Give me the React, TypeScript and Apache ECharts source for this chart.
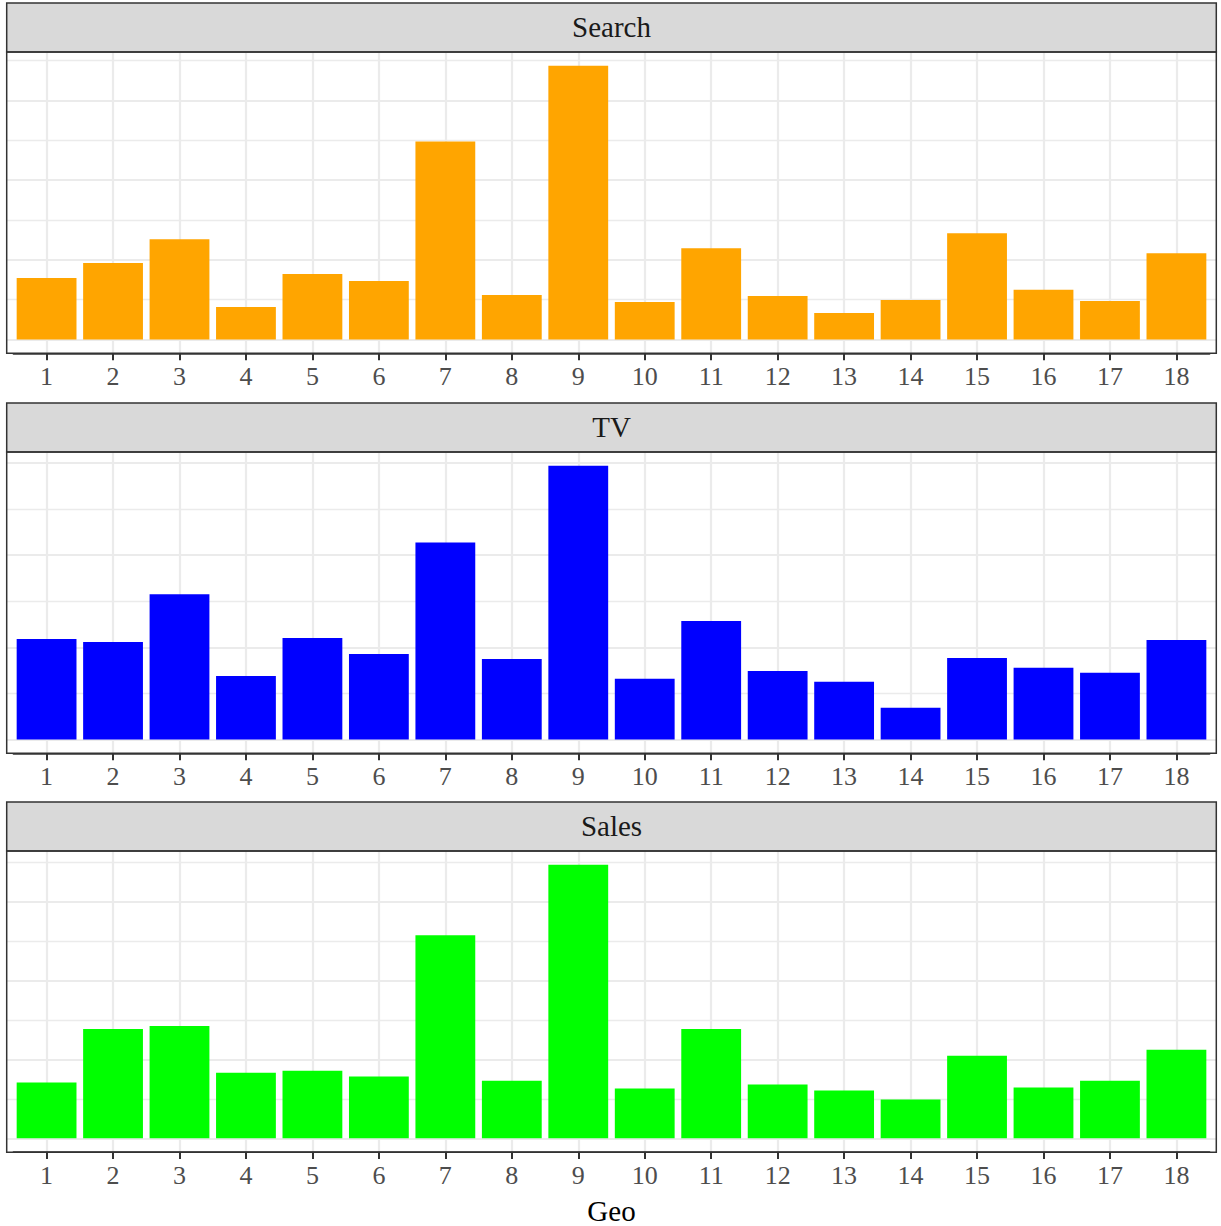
import React, { useEffect, useRef } from "react";
import * as echarts from "echarts";

// ---------------- data ----------------
const geos = ["1", "2", "3", "4", "5", "6", "7", "8", "9", "10", "11", "12", "13", "14", "15", "16", "17", "18"];
const searchValues = [0.771, 0.959, 1.259, 0.409, 0.821, 0.734, 2.484, 0.559, 3.434, 0.471, 1.146, 0.546, 0.334, 0.496, 1.334, 0.625, 0.484, 1.084];
const tvValues = [1.09, 1.057, 1.575, 0.69, 1.1, 0.928, 2.136, 0.874, 2.967, 0.658, 1.284, 0.744, 0.626, 0.345, 0.885, 0.777, 0.723, 1.079];
const salesValues = [0.705, 1.385, 1.423, 0.831, 0.856, 0.781, 2.569, 0.73, 3.463, 0.63, 1.385, 0.68, 0.605, 0.491, 1.045, 0.642, 0.73, 1.121];
const panelNames = ["Search", "TV", "Sales"];
const panelColors = ["#FFA500", "#0000FF", "#00FF00"];
const xTitle = "Geo";

// ---------------- layout ----------------
const FONT = "'Liberation Serif', 'DejaVu Serif', serif";
const PANEL_LEFT = 6.7;
const PANEL_WIDTH = 1209.6;
const STRIP_TOPS = [3, 403, 802];
const STRIP_H = 49;
const PANEL_H = 301.3;
const UNIT = PANEL_WIDTH / 18.2;
const INSET = 0.1 * UNIT;

function buildOption() {
  const all = [searchValues, tvValues, salesValues];
  const grid: any[] = [];
  const xAxis: any[] = [];
  const yAxis: any[] = [];
  const series: any[] = [];
  const graphic: any[] = [];

  all.forEach((vals, p) => {
    const top = STRIP_TOPS[p] + STRIP_H;
    const vmax = Math.max(...vals);
    const ymin = -0.05 * vmax;
    const ymax = 1.05 * vmax;

    grid.push({ left: PANEL_LEFT + INSET, top, width: 18 * UNIT, height: PANEL_H });
    grid.push({ left: PANEL_LEFT, top, width: PANEL_WIDTH, height: PANEL_H });

    xAxis.push({
      type: "category",
      gridIndex: 2 * p,
      position: "bottom",
      data: geos,
      boundaryGap: true,
      axisLine: { show: true, onZero: false, lineStyle: { color: "#333333", width: 1.5 } },
      axisTick: { show: true, inside: false, interval: 0, alignWithLabel: true, length: 7, lineStyle: { color: "#333333", width: 2 } },
      axisLabel: { color: "#4d4d4d", fontSize: 26, fontFamily: FONT, margin: 10, interval: 0 },
      splitLine: { show: false },
      z: 50,
      ...(p === 2
        ? {
            name: xTitle,
            nameLocation: "middle",
            nameGap: 44,
            nameTextStyle: { color: "#000000", fontSize: 29, fontFamily: FONT },
          }
        : {}),
    });
    xAxis.push({ type: "value", gridIndex: 2 * p + 1, min: 0.4, max: 18.6, show: false });
    yAxis.push({ type: "value", gridIndex: 2 * p, min: ymin, max: ymax, show: false });
    yAxis.push({ type: "value", gridIndex: 2 * p + 1, min: ymin, max: ymax, show: false });

    const hLines: any[] = [];
    for (let k = 0; k * 0.5 <= ymax; k++) {
      const v = k * 0.5;
      if (v < ymin) continue;
      hLines.push({ yAxis: v, lineStyle: { width: k % 2 === 0 ? 2.2 : 1.3, color: "#ebebeb", type: "solid" } });
    }
    const vLines = geos.map((_, i) => ({ xAxis: i + 1, lineStyle: { width: 2.2, color: "#ebebeb", type: "solid" } }));

    series.push({
      type: "line",
      xAxisIndex: 2 * p + 1,
      yAxisIndex: 2 * p + 1,
      data: [],
      z: 1,
      silent: true,
      markLine: {
        silent: true,
        z: 1,
        symbol: ["none", "none"],
        label: { show: false },
        emphasis: { disabled: true },
        data: [...hLines, ...vLines],
      },
    });
    series.push({
      type: "bar",
      name: panelNames[p],
      xAxisIndex: 2 * p,
      yAxisIndex: 2 * p,
      data: vals,
      barWidth: "90%",
      z: 10,
      itemStyle: { color: panelColors[p] },
    });

    // strip
    graphic.push({
      type: "rect",
      shape: { x: PANEL_LEFT, y: STRIP_TOPS[p], width: PANEL_WIDTH, height: STRIP_H },
      style: { fill: "#d9d9d9", stroke: "#333333", lineWidth: 1.5 },
      z: 100,
    });
    graphic.push({
      type: "text",
      x: PANEL_LEFT + PANEL_WIDTH / 2,
      y: STRIP_TOPS[p] + STRIP_H / 2 - 1,
      style: {
        text: panelNames[p],
        fill: "#1a1a1a",
        fontSize: 29,
        fontFamily: FONT,
        align: "center",
        verticalAlign: "middle",
      },
      z: 101,
    });
    // panel border
    graphic.push({
      type: "rect",
      shape: { x: PANEL_LEFT, y: top, width: PANEL_WIDTH, height: PANEL_H },
      style: { fill: "none", stroke: "#333333", lineWidth: 1.5 },
      z: 100,
    });
  });

  return {
    animation: false,
    backgroundColor: "#ffffff",
    textStyle: { fontFamily: FONT },
    grid,
    xAxis,
    yAxis,
    series,
    graphic,
  };
}

export default function App() {
  const ref = useRef<HTMLDivElement>(null);
  useEffect(() => {
    if (!ref.current) return;
    const chart = echarts.init(ref.current, undefined, { renderer: "svg" });
    chart.setOption(buildOption() as any);
    return () => chart.dispose();
  }, []);
  return (
    <div
      ref={ref}
      style={{ position: "fixed", left: 0, top: 0, width: 1221, height: 1226, background: "#ffffff" }}
    />
  );
}
